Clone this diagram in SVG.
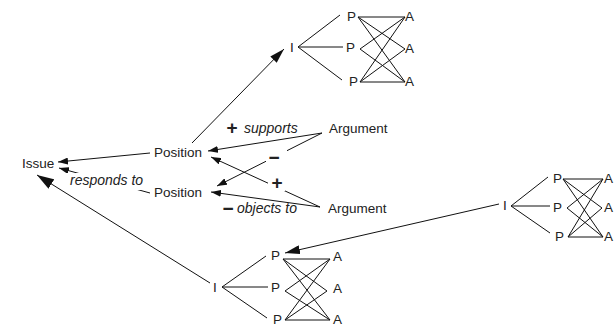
<svg xmlns="http://www.w3.org/2000/svg" width="614" height="326" viewBox="0 0 614 326">
<style>
text{font-family:"Liberation Sans",Arial,sans-serif;font-size:13.5px;fill:#222}
.it{font-style:italic;font-size:14px}
.sg{font-weight:bold;font-size:19px;text-anchor:middle}
.ln{stroke:#111;stroke-width:1;fill:none}
.bg{fill:#fff}
</style>
<defs>
<marker id="aS" markerUnits="userSpaceOnUse" markerWidth="10" markerHeight="7" refX="10" refY="3.5" orient="auto"><path d="M0,0 L10,3.5 L0,7 z" fill="#111"/></marker>
<marker id="aM" markerUnits="userSpaceOnUse" markerWidth="15" markerHeight="9" refX="15" refY="4.5" orient="auto"><path d="M0,0 L15,4.5 L0,9 z" fill="#111"/></marker>
<marker id="aL" markerUnits="userSpaceOnUse" markerWidth="17" markerHeight="11" refX="17" refY="5.5" orient="auto"><path d="M0,0 L17,5.5 L0,11 z" fill="#111"/></marker>
</defs>
<g id="connectors">
<line class="ln" x1="150" y1="153" x2="58" y2="162" marker-end="url(#aS)"/>
<line class="ln" x1="150" y1="193" x2="59" y2="168" marker-end="url(#aS)"/>
<line class="ln" x1="210" y1="283" x2="37" y2="175" marker-end="url(#aL)"/>
<line class="ln" x1="192" y1="143" x2="284" y2="49" marker-end="url(#aM)"/>
<line class="ln" x1="499" y1="204" x2="285" y2="253" marker-end="url(#aM)"/>
<line class="ln" x1="322" y1="133" x2="208" y2="151" marker-end="url(#aS)"/>
<line class="ln" x1="322" y1="133" x2="217" y2="186" marker-end="url(#aS)"/>
<line class="ln" x1="320" y1="207" x2="211" y2="192" marker-end="url(#aS)"/>
<line class="ln" x1="320" y1="207" x2="211" y2="157" marker-end="url(#aS)"/>
<path class="ln" d="M340,15 L298,47 L343,47 M298,47 L342,80"/>
<path class="ln" d="M358,17 L405,17 M358,17 L405,49 M358,17 L405,82 M360,49 L405,17 M360,49 L405,82 M360,82 L405,17 M360,82 L405,49 M360,82 L405,82"/>
<path class="ln" d="M266,256 L222,287 L268,287 M222,287 L267,318"/>
<path class="ln" d="M283,259 L330,259 M283,259 L327,291 M283,259 L330,320 M285,291 L330,259 M285,291 L330,320 M285,320 L330,259 M285,320 L327,291 M285,320 L330,320"/>
<path class="ln" d="M548,177 L511,206 L550,206 M511,206 L550,233"/>
<path class="ln" d="M563,179 L603,179 M563,179 L602,208 M563,179 L603,237 M567,208 L603,179 M567,208 L603,237 M568,237 L603,179 M568,237 L602,208 M568,237 L603,237"/>
</g>
<g id="label-responds"><rect class="bg" x="66" y="173" width="82" height="17"/><text class="it" x="70" y="185">responds to</text></g>
<g id="label-supports"><text class="sg" x="232" y="134">+</text><text class="it" x="244" y="133">supports</text></g>
<g id="label-objects"><text class="sg" x="228" y="215">−</text><text class="it" x="237" y="213">objects to</text></g>
<g id="label-minus"><rect class="bg" x="266" y="148" width="21" height="17"/><text class="sg" x="274" y="164">−</text></g>
<g id="label-plus"><rect class="bg" x="268" y="174" width="17" height="17"/><text class="sg" x="277" y="189">+</text></g>
<g id="issue"><text x="22" y="168">Issue</text></g>
<g id="position1"><text x="154" y="157">Position</text></g>
<g id="position2"><text x="154" y="197">Position</text></g>
<g id="argument1"><text x="329" y="133">Argument</text></g>
<g id="argument2"><text x="328" y="213">Argument</text></g>
<g id="top-I"><text x="290" y="52">I</text></g>
<g id="top-P1"><text x="347" y="21">P</text></g>
<g id="top-P2"><text x="346" y="52">P</text></g>
<g id="top-P3"><text x="349" y="86">P</text></g>
<g id="top-A1"><text x="405" y="21">A</text></g>
<g id="top-A2"><text x="405" y="53">A</text></g>
<g id="top-A3"><text x="405" y="86">A</text></g>
<g id="bot-I"><text x="213" y="292">I</text></g>
<g id="bot-P1"><text x="271" y="260">P</text></g>
<g id="bot-P2"><text x="271" y="292">P</text></g>
<g id="bot-P3"><text x="273" y="324">P</text></g>
<g id="bot-A1"><text x="333" y="261">A</text></g>
<g id="bot-A2"><text x="333" y="293">A</text></g>
<g id="bot-A3"><text x="333" y="324">A</text></g>
<g id="right-I"><text x="503" y="210">I</text></g>
<g id="right-P1"><text x="553" y="183">P</text></g>
<g id="right-P2"><text x="553" y="212">P</text></g>
<g id="right-P3"><text x="555" y="241">P</text></g>
<g id="right-A1"><text x="604" y="183">A</text></g>
<g id="right-A2"><text x="604" y="212">A</text></g>
<g id="right-A3"><text x="604" y="241">A</text></g>
</svg>
